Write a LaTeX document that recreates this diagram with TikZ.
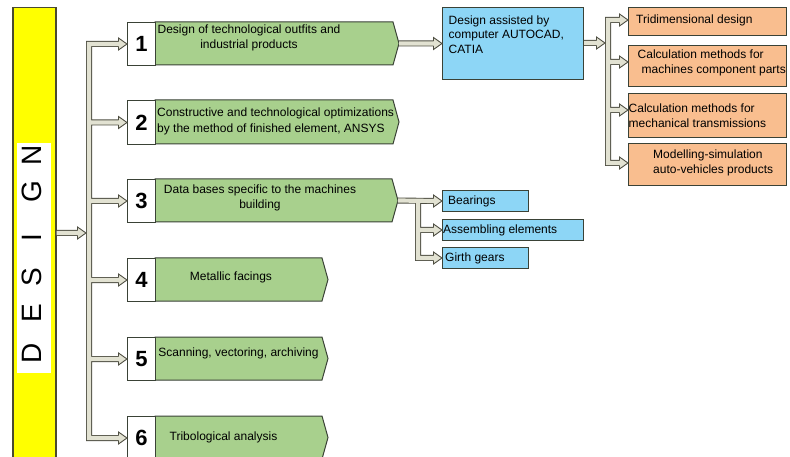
\documentclass[tikz,border=0pt]{standalone}
\usepackage{fontspec}
\setmainfont{Liberation Sans}
\usetikzlibrary{calc}
\definecolor{yel}{HTML}{FFFF00}
\definecolor{yedge}{HTML}{4A4A30}
\definecolor{gfill}{HTML}{A8D08D}
\definecolor{bfill}{HTML}{8DD6F6}
\definecolor{ofill}{HTML}{F9BE8F}
\definecolor{afill}{HTML}{E2E2D2}
\definecolor{aedge}{HTML}{4E4E42}
\definecolor{bedge}{HTML}{3A4236}
\tikzset{
 boxline/.style={draw=bedge, line width=1pt},
 numbox/.style={boxline, fill=white, minimum width=28pt, anchor=north west, inner sep=0pt, font=\fontsize{22}{22}\selectfont\bfseries},
 gshape/.style={boxline, fill=gfill},
 cadbox/.style={boxline, fill=bfill, anchor=north west, inner sep=0pt},
 subbox/.style={boxline, fill=bfill, anchor=north west, inner sep=0pt, minimum height=21pt},
 obox/.style={boxline, fill=ofill, anchor=north west, inner sep=0pt, minimum width=158pt},
 txt/.style={inner sep=0pt, font=\fontsize{12}{14.5}\selectfont},
 letter/.style={rotate=90, inner sep=0pt, font=\fontsize{28}{28}\selectfont},
}
\newcommand\gbox[4]{\path[gshape] (155,#2) -- (#3,#2) -- (#3+6,#2+#4/2) -- (#3,#2+#4) -- (155,#2+#4) -- cycle; \coordinate (#1) at (#3+6,#2+#4/2);}
\newcommand\ahead[1]{%
 \fill[afill] ($(#1)+(-8.5,-6)$) -- (#1) -- ($(#1)+(-8.5,6)$) -- cycle;
 \draw[aedge, line width=0.9pt, line join=miter] ($(#1)+(-8.5,-2.6)$) -- ($(#1)+(-8.5,-6)$) -- (#1) -- ($(#1)+(-8.5,6)$) -- ($(#1)+(-8.5,2.6)$);}
\begin{document}
\begin{tikzpicture}[x=1pt,y=-1pt]
\useasboundingbox (0,0) rectangle (790,457);
\clip (0,0) rectangle (790,457);
% yellow DESIGN bar
\node[draw=yedge, line width=1.5pt, fill=yel, anchor=north west, minimum width=43pt, minimum height=470pt, inner sep=0pt] (ybar) at (12,7) {};
\node[fill=white, anchor=north west, minimum width=34pt, minimum height=230pt, inner sep=0pt] (wb) at (16.5,143) {};
\node[letter] (lD) at (32,353) {D};
\node[letter] (lE) at (32,313) {E};
\node[letter] (lS) at (32,277) {S};
\node[letter] (lI) at (32,238) {I};
\node[letter] (lG) at (32,192) {G};
\node[letter] (lN) at (32,155) {N};
% green boxes
\gbox{g1tip}{22}{393}{43}
\gbox{g2tip}{100}{393}{44}
\gbox{g3tip}{179}{392}{43}
\gbox{g4tip}{258}{322}{43}
\gbox{g5tip}{337}{322}{43}
\gbox{g6tip}{416}{322}{43}
\node[numbox, minimum height=43pt] (n1) at (127,22) {1};
\node[numbox, minimum height=44pt] (n2) at (127,100) {2};
\node[numbox, minimum height=43pt] (n3) at (127,179) {3};
\node[numbox, minimum height=43pt] (n4) at (127,258) {4};
\node[numbox, minimum height=43pt] (n5) at (127,337) {5};
\node[numbox, minimum height=43pt] (n6) at (127,416) {6};
% blue and orange boxes
\node[cadbox, minimum width=141pt, minimum height=72pt] (cad) at (442,7) {};
\node[subbox, minimum width=86pt] (bear) at (442,190) {};
\node[subbox, minimum width=141pt] (asm) at (442,219) {};
\node[subbox, minimum width=86pt] (gir) at (442,247) {};
\node[obox, minimum height=28pt] (o1) at (628,7) {};
\node[obox, minimum height=41pt] (o2) at (628,45) {};
\node[obox, minimum height=44pt] (o3) at (628,93) {};
\node[obox, minimum height=42pt] (o4) at (628,143) {};
% connector coordinates
\coordinate (kx) at (89,0);
\coordinate (k2x) at (608,0);
\coordinate (k3x) at (418,0);
\coordinate (ym) at (ybar.east |- 0,233);
\coordinate (jm) at (86,233);
\coordinate (cadin) at (cad.west |- g1tip);
\coordinate (cadout) at (cad.east |- 0,43);
\coordinate (k2tip) at (605,43);
\coordinate (to1) at (628,20);
\coordinate (to2) at (628,62);
\coordinate (to3) at (628,110);
\coordinate (to4) at (628,163);
% shafts (two passes: outline, then fill)
\foreach \w/\c in {6/aedge,4.2/afill}{
 \draw[line width=\w pt, \c, line join=miter]
  ($(n1.west)+(-8,0)$) -- (kx |- n1.west) -- (kx |- n6.west) -- ($(n6.west)+(-8,0)$)
  (kx |- n2.west) -- ($(n2.west)+(-8,0)$)
  (kx |- n3.west) -- ($(n3.west)+(-8,0)$)
  (kx |- n4.west) -- ($(n4.west)+(-8,0)$)
  (kx |- n5.west) -- ($(n5.west)+(-8,0)$)
  (ym) -- ($(jm)+(-8,0)$)
  (g1tip) -- ($(cadin)+(-8,0)$)
  (cadout) -- ($(k2tip)+(-8,0)$)
  ($(to1)+(-8,0)$) -- (k2x |- to1) -- (k2x |- to4) -- ($(to4)+(-8,0)$)
  (k2x |- to2) -- ($(to2)+(-8,0)$)
  (k2x |- to3) -- ($(to3)+(-8,0)$)
  (g3tip) -- ($(bear.west)+(-8,0)$)
  (k3x |- g3tip) -- (k3x |- gir.west) -- ($(gir.west)+(-8,0)$)
  (k3x |- asm.west) -- ($(asm.west)+(-8,0)$);
}
\ahead{n1.west}\ahead{n2.west}\ahead{n3.west}\ahead{n4.west}\ahead{n5.west}\ahead{n6.west}
\ahead{jm}\ahead{cadin}\ahead{k2tip}
\ahead{to1}\ahead{to2}\ahead{to3}\ahead{to4}
\ahead{bear.west}\ahead{asm.west}\ahead{gir.west}
% texts
\node[txt, align=center] (t1) at (249,38) {Design of technological outfits and\\industrial products};
\node[txt, align=left, anchor=west, font=\fontsize{12}{16}\selectfont] (t2) at (157,121) {Constructive and technological optimizations\\by the method of finished element, ANSYS};
\node[txt, align=center] (t3) at (260,198) {Data bases specific to the machines\\building};
\node[txt] (t4) at (231,277) {Metallic facings};
\node[txt] (t5) at (238.5,353) {Scanning, vectoring, archiving};
\node[txt] (t6) at (223.5,437) {Tribological analysis};
\node[txt, align=left, anchor=west] (tcad) at (448.5,34.6) {Design assisted by\\computer AUTOCAD,\\CATIA};
\node[txt, anchor=west] (tb1) at (448,201) {Bearings};
\node[txt, anchor=west] (tb2) at (443,230) {Assembling elements};
\node[txt, anchor=west] (tb3) at (445,258) {Girth gears};
\node[txt, anchor=west] (to1t) at (636,20) {Tridimensional design};
\node[txt, align=left, anchor=west, font=\fontsize{12}{15}\selectfont] (to2t) at (637.5,62.4) {Calculation methods for\\\hspace*{4pt}machines component parts};
\node[txt, align=left, anchor=west] (to3t) at (628.5,115.6) {Calculation methods for\\mechanical transmissions};
\node[txt, align=left, anchor=west, font=\fontsize{12}{15}\selectfont] (to4t) at (653,162.4) {Modelling-simulation\\auto-vehicles products};
\end{tikzpicture}
\end{document}
